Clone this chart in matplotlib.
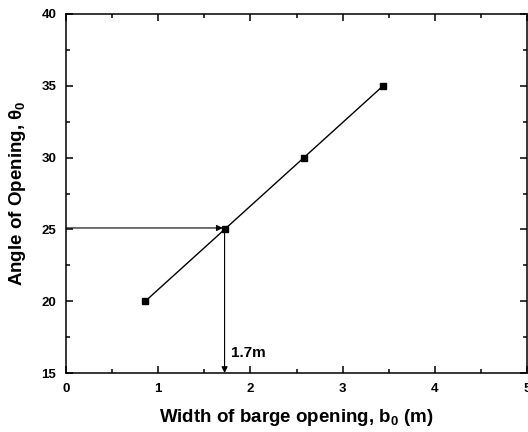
"""
Angle of opening vs width of barge opening
"""

import matplotlib.pyplot as plt
from matplotlib.ticker import MultipleLocator

width_b0 = [0.86, 1.72, 2.58, 3.44]
angle_theta0 = [20, 25, 30, 35]

read_angle = 25.1
read_width = 1.72
read_label = "1.7m"

plt.rcParams['font.family'] = ['Liberation Sans', 'DejaVu Sans']
plt.rcParams['font.weight'] = 'bold'
plt.rcParams['mathtext.default'] = 'regular'

fig = plt.figure(figsize=(5.28, 4.32), dpi=100)
ax = fig.add_axes([66 / 528, 1 - 373 / 432, 461 / 528, 359 / 432])

ax.plot(width_b0, angle_theta0, color='black', lw=1.0, marker='s', ms=5)

# reading arrows
ax.annotate('', xy=(read_width - 0.02, read_angle), xytext=(0, read_angle),
            arrowprops=dict(arrowstyle='-|>', color='black', lw=0.8,
                            mutation_scale=9, shrinkA=0, shrinkB=0))
ax.annotate('', xy=(read_width, 15), xytext=(read_width, 25),
            arrowprops=dict(arrowstyle='-|>', color='black', lw=0.8,
                            mutation_scale=9, shrinkA=0, shrinkB=0))
ax.text(read_width + 0.07, 16.1, read_label, fontsize=11, fontweight='bold')

ax.set_xlim(0, 5)
ax.set_ylim(15, 40)
ax.xaxis.set_major_locator(MultipleLocator(1))
ax.xaxis.set_minor_locator(MultipleLocator(0.5))
ax.yaxis.set_major_locator(MultipleLocator(5))
ax.yaxis.set_minor_locator(MultipleLocator(2.5))
ax.tick_params(which='both', direction='in', top=True, right=True, width=1.1)
ax.tick_params(which='major', length=5, labelsize=9.5, pad=7)
ax.tick_params(which='minor', length=3)
for s in ax.spines.values():
    s.set_linewidth(1.1)

ax.set_xlabel('Width of barge opening, b$_0$ (m)', fontsize=13.5, fontweight='bold', labelpad=9)
ax.set_ylabel(r'Angle of Opening, $\theta_0$', fontsize=13.5, fontweight='bold', labelpad=10)

fig.savefig('out.png', dpi=100)
